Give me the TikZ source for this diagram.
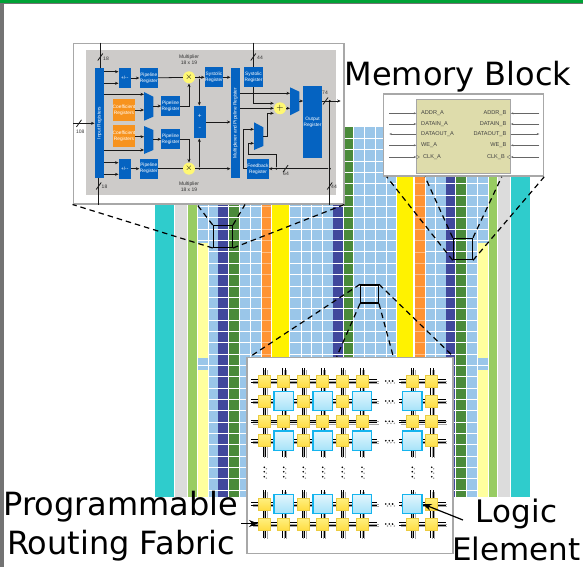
\documentclass[tikz,border=0pt]{standalone}
\usepackage{fontspec}
\setmainfont{DejaVu Sans}
\newfontfamily\panelfont{Liberation Sans}
\usetikzlibrary{calc,arrows.meta}
\definecolor{cellblue}{HTML}{9AC6E9}
\definecolor{cellnavy}{HTML}{40489C}
\definecolor{cellgreen}{HTML}{4A8A3A}
\definecolor{cellteal}{HTML}{2FCCCC}
\definecolor{cellgray}{HTML}{DCDCDC}
\definecolor{celllime}{HTML}{98CC62}
\definecolor{cellyellow}{HTML}{FFF200}
\definecolor{cellorange}{HTML}{FF9333}
\definecolor{celllight}{HTML}{FFFF9E}
\definecolor{dspblue}{HTML}{0563C1}
\definecolor{dspgray}{HTML}{CDCBC9}
\definecolor{dsporange}{HTML}{F7931E}
\definecolor{memfill}{HTML}{DEDCAB}
\definecolor{panelline}{HTML}{A8A8A8}
\definecolor{routeyellow}{HTML}{FFDD44}
\definecolor{routetop}{HTML}{FFF080}
\definecolor{leblue}{HTML}{14B4EE}
\tikzset{
  panel/.style={draw=panelline, fill=white, line width=1.5pt, inner sep=0pt, anchor=north west},
  zoomsq/.style={draw=black, line width=1.3pt, inner sep=0pt, anchor=north west},
  zoomline/.style={dash pattern=on 5.5pt off 4pt, line width=1.2pt},
  bigtext/.style={font=\fontsize{32}{39}\selectfont, inner sep=0pt, align=center},
  dspbox/.style={fill=dspblue, text=white, inner sep=0pt, align=center,
                 font=\panelfont\fontsize{4.8}{6}\selectfont},
  regbox/.style={dspbox, minimum width=18.5pt, minimum height=20pt},
  pmbox/.style={dspbox, minimum width=12pt, minimum height=20pt},
  coefbox/.style={regbox, fill=dsporange, minimum width=22pt, minimum height=21.5pt},
  tallbox/.style={dspbox, minimum width=9.4pt, minimum height=110.5pt},
  opcirc/.style={circle, fill=yellow!55, minimum size=12pt, inner sep=0pt,
                 font=\fontsize{9}{9}\selectfont},
  dsptext/.style={inner sep=0pt, align=center, text=black!80,
                  font=\panelfont\fontsize{5}{6.4}\selectfont},
  wire/.style={-{Stealth[length=3.5pt,width=3pt]}, line width=0.8pt, black!90},
  plainwire/.style={line width=0.8pt, black!90},
  dot/.style={circle, fill=black, minimum size=2.2pt, inner sep=0pt},
  memtext/.style={inner sep=0pt, text=black!75, font=\panelfont\fontsize{5.6}{6}\selectfont},
  memwire/.style={-{Stealth[length=2.5pt,width=2pt]}, line width=0.5pt, black!60},
  route/.style={draw=routeyellow!92!black, line width=0.6pt, minimum size=12pt, inner sep=0pt,
                top color=routetop, bottom color=routeyellow},
  logicel/.style={draw=leblue, line width=1.3pt, minimum size=19.5pt, inner sep=0pt,
                  top color=leblue!12, bottom color=leblue!38},
  busmark/.pic={\draw[line width=0.8pt, black!90] (-2.5,3.5) -- (2.5,-3.5);},
  pointer/.style={-{Stealth[length=9pt,width=7pt]}, line width=1.2pt},
}
\begin{document}
\begin{tikzpicture}[x=1pt,y=-1pt]
  \useasboundingbox (0,0) rectangle (583,567);
  % page edges
  \fill[black!55] (0,3) rectangle (583,4.5);
  \fill[black!55] (0,4) rectangle (3.5,567);
  \fill[green!50!teal!85!black] (0,0) rectangle (583,3);
  % columns of the device
  \foreach \xa/\xb/\col in {154.5/174/cellteal, 175/187/cellgray, 188/197/celllime,
      197.5/208/cellblue, 209/217.5/cellblue, 218/228/cellnavy, 229/239/cellgreen,
      239.5/250/cellblue, 251/261/cellblue, 262/271/cellorange, 272/289/cellyellow,
      290/300.5/cellblue, 301.5/311/cellblue, 312/322/cellblue, 323/332.5/cellblue,
      333/343/cellnavy, 343.5/353/cellgreen,
      353.5/364/cellblue, 365/375/cellblue, 376/385.5/cellblue, 386.5/396/cellblue,
      397/413/cellyellow, 415/425/cellorange,
      425.5/435/cellblue, 436/445.5/cellblue, 446/455/cellnavy, 456/466/cellgreen,
      467/477/cellblue, 478/488/cellblue, 489/497/celllime, 498/510/cellgray, 511/530/cellteal}
    \fill[\col] (\xa,127) rectangle (\xb,497);
  \foreach \k in {1,...,32} {
    \draw[white, line width=0.8pt] (197.5,127+11.35*\k) -- (261,127+11.35*\k);
    \draw[white, opacity=0.4, line width=0.7pt] (262,127+11.35*\k) -- (271,127+11.35*\k);
    \draw[white, line width=0.8pt] (290,127+11.35*\k) -- (396,127+11.35*\k);
    \draw[white, opacity=0.4, line width=0.7pt] (415,127+11.35*\k) -- (425,127+11.35*\k);
    \draw[white, line width=0.8pt] (425.5,127+11.35*\k) -- (488,127+11.35*\k);
  }
  \fill[celllight] (197.5,243) rectangle (208,358);
  \fill[celllight] (197.5,370) rectangle (208,497);
  \fill[celllight] (478,243) rectangle (488,358);
  \fill[celllight] (478,370) rectangle (488,497);

  % zoom squares
  \node[zoomsq, minimum width=19pt, minimum height=21.7pt] (sqDsp) at (212.7,225) {};
  \node[zoomsq, minimum width=19pt, minimum height=21.3pt] (sqMem) at (452.7,237.7) {};
  \node[zoomsq, minimum width=17.7pt, minimum height=18pt] (sqFab) at (360,284.3) {};

  % dashed zoom lines
  \node[panel, minimum width=270.5pt, minimum height=160.3pt] (dspPanel) at (72.5,42.7) {};
  \node[panel, minimum width=160pt, minimum height=82pt] (memPanel) at (382.7,93.3) {};
  \node[panel, minimum width=206pt, minimum height=196pt] (fabPanel) at (246,356.7) {};
  \draw[zoomline] (sqDsp.south west) -- (dspPanel.south west);
  \draw[zoomline] (sqDsp.north west) -- (dspPanel.south -| 197,0);
  \draw[zoomline] (sqDsp.north east) -- (dspPanel.south -| 245,0);
  \draw[zoomline] (sqDsp.south east) -- (dspPanel.south east);
  \draw[zoomline] (sqMem.south west) -- (memPanel.south -| 386.7,0);
  \draw[zoomline] (sqMem.north west) -- (memPanel.south -| 425,0);
  \draw[zoomline] (sqMem.north east) -- (memPanel.south -| 501.7,0);
  \draw[zoomline] (sqMem.south east) -- (memPanel.south east);
  \draw[zoomline] (sqFab.north west) -- (fabPanel.north -| 250,0);
  \draw[zoomline] (sqFab.south west) -- (fabPanel.north -| 336.7,0);
  \draw[zoomline] (sqFab.south east) -- (fabPanel.north -| 393.3,0);
  \draw[zoomline] (sqFab.north east) -- (fabPanel.north east);

  % multiplier block
  \node[fill=dspgray, minimum width=250pt, minimum height=145pt, inner sep=0pt, anchor=north west] (dspBack) at (86,50) {};
  \node[tallbox] (inreg) at (99.4,123) {\rotatebox{90}{Input Registers}};
  \node[tallbox] (muxreg) at (235.4,123) {\rotatebox{90}{Multiplexer and Pipeline Register}};
  \node[pmbox] (plusA) at (124.7,78) {+/--};
  \node[pmbox] (plusB) at (124.7,168.7) {+/--};
  \node[regbox] (pipeA) at (148.8,78) {Pipeline\\Register};
  \node[regbox] (pipeB) at (170.6,106) {Pipeline\\Register};
  \node[regbox] (pipeC) at (170.6,139.3) {Pipeline\\Register};
  \node[regbox] (pipeD) at (148.8,168.7) {Pipeline\\Register};
  \node[coefbox] (coefA) at (124,110) {Coefficient\\Registers};
  \node[coefbox] (coefB) at (124,136.2) {Coefficient\\Registers};
  \node[regbox] (sysA) at (214,77) {Systolic\\Register};
  \node[regbox] (sysB) at (253.5,77) {Systolic\\Register};
  \node[regbox] (feedreg) at (258,169) {Feedback\\Register};
  \node[dspbox, minimum width=18.4pt, minimum height=72.3pt] (outreg) at (312.5,122.2) {Output\\Register};
  \node[dspbox, minimum width=11.7pt, minimum height=32.6pt, font=\fontsize{5}{12}\selectfont] (addsub) at (199.8,122) {+\\--};
  \node[opcirc] (multA) at (189,77.3) {$\times$};
  \node[opcirc] (multB) at (189,168.7) {$\times$};
  \node[opcirc] (adder) at (280,108.3) {$+$};
  \node[dsptext] (multAtxt) at (189,60) {Multiplier\\18 x 19};
  \node[dsptext] (multBtxt) at (189,186.7) {Multiplier\\18 x 19};
  % multiplexers
  \fill[dspblue] (144,92) -- (153.3,96.7) -- (153.3,116.7) -- (144,120.7) -- cycle;
  \fill[dspblue] (144,126) -- (153.3,130) -- (153.3,150) -- (144,154) -- cycle;
  \fill[dspblue] (290,87.3) -- (299.3,91.7) -- (299.3,110.7) -- (290,115.3) -- cycle;
  \fill[dspblue] (254,122.3) -- (263.3,127.3) -- (263.3,146) -- (254,150) -- cycle;
  \coordinate (muxAin1) at (144,94.3);
  \coordinate (muxAin2) at (144,110);
  \coordinate (muxAout) at (153.3,106);
  \coordinate (muxBin1) at (144,136.7);
  \coordinate (muxBin2) at (144,150);
  \coordinate (muxBout) at (153.3,139.3);
  \coordinate (muxCin) at (290,93.3);
  \coordinate (muxCin2) at (290,108.3);
  \coordinate (muxCout) at (299.3,101);
  \coordinate (muxDin1) at (254,129.3);
  \coordinate (muxDin2) at (254,143.3);
  \coordinate (muxDout) at (263.3,136);

  % wiring of the multiplier block
  \draw[wire] (inreg.east |- 0,71.7) -- (plusA.west |- 0,71.7);
  \draw[wire] (inreg.east |- 0,83.3) -- (plusA.west |- 0,83.3);
  \draw[wire] (plusA) -- (pipeA);
  \draw[plainwire] (pipeA) -- (multA);
  \node[dot] (jctA) at (199.3,77.3) {};
  \draw[wire] (multA) -- (sysA.west |- multA);
  \draw[wire] (jctA) -- (addsub.north -| jctA);
  \draw[wire] (sysA.east |- multA) -- (muxreg.west |- multA);
  \draw[wire] (inreg.east |- muxAin1) -- (muxAin1);
  \draw[wire] (coefA.east |- muxAin2) -- (muxAin2);
  \draw[wire] (coefB.east |- muxBin1) -- (muxBin1);
  \draw[wire] (inreg.east |- muxBin2) -- (muxBin2);
  \draw[wire] (muxAout) -- (pipeB.west |- muxAout);
  \draw[wire] (muxBout) -- (pipeC.west |- muxBout);
  \draw[wire] (pipeB.east) -| (multA.south);
  \draw[wire] (pipeC.east) -| (multB.north);
  \draw[wire] (inreg.east |- 0,162.7) -- (plusB.west |- 0,162.7);
  \draw[wire] (inreg.east |- 0,174.3) -- (plusB.west |- 0,174.3);
  \draw[wire] (plusB) -- (pipeD);
  \draw[plainwire] (pipeD) -- (multB);
  \node[dot] (jctB) at (199.3,168.7) {};
  \draw[wire] (multB) -- (muxreg.west |- multB);
  \draw[wire] (jctB) -- (addsub.south -| jctB);
  \draw[wire] (addsub.east) -- (muxreg.west |- addsub);
  \draw[wire] (muxreg.east |- muxCin) -- (muxCin);
  \draw[wire] (muxreg.east |- adder) -- (adder.west);
  \draw[wire] (sysB.south -| 253.3,0) |- (adder.west |- 0,103.3);
  \draw[wire] (muxDout) -| (267.3,113.3) -- (adder.west |- 0,113.3);
  \draw[wire] (adder.east) -- (muxCin2);
  \draw[wire] (muxCout) -- (outreg.west |- muxCout);
  \coordinate (outEnd) at (340.7,101);
  \draw[wire] (outreg.east |- outEnd) -- (outEnd);
  \node[dot] (jctC) at (329.7,101) {};
  \node[dot] (jctD) at (329.7,168.7) {};
  \node[dot] (jctE) at (276.3,168.7) {};
  \draw[plainwire] (jctC) -- (dspPanel.south -| jctC);
  \draw[wire] (jctD) -- (feedreg.east |- jctD);
  \draw[wire] (jctE) |- (248.3,154.3) |- (muxDin2);
  \draw[wire] (feedreg.west |- jctD) -| (243.3,129.3) -- (muxDin1);
  \draw[plainwire] (dspPanel.north -| 100.3,0) -- (inreg.north -| 100.3,0);
  \draw[plainwire] (inreg.south -| 98.7,0) -- (dspPanel.south -| 98.7,0);
  \draw[plainwire] (dspPanel.north -| 253.3,0) -- (sysB.north -| 253.3,0);
  \coordinate (inStart) at (73,123.3);
  \draw[wire] (inStart) -- (inreg.west |- inStart);
  % bus marks and their widths
  \path (100.3,57) pic {busmark};
  \node[dsptext] (busA) at (106,58.5) {18};
  \path (98.7,186) pic {busmark};
  \node[dsptext] (busB) at (104.5,187) {18};
  \path (79,123.3) pic {busmark};
  \node[dsptext] (busC) at (80.3,131.7) {108};
  \path (253.3,57) pic {busmark};
  \node[dsptext] (busD) at (260,58) {44};
  \path (325.5,101) pic {busmark};
  \node[dsptext] (busE) at (325,93) {74};
  \path (285.5,168.7) pic {busmark};
  \node[dsptext] (busF) at (286,174) {64};
  \path (329.7,186) pic {busmark};
  \node[dsptext] (busG) at (334,187) {44};

  % memory block
  \node[draw=black!35, line width=0.5pt, fill=memfill, minimum width=94pt, minimum height=74pt, inner sep=0pt, anchor=north west] (memcore) at (416.3,98.7) {};
  \node[memtext, anchor=west] (addrA) at (421,113.3) {ADDR\_A};
  \node[memtext, anchor=west] (dinA) at (421,124) {DATAIN\_A};
  \node[memtext, anchor=west] (doutA) at (421,134) {DATAOUT\_A};
  \node[memtext, anchor=west] (weA) at (421,145.3) {WE\_A};
  \node[memtext, anchor=west] (clkA) at (423,157) {CLK\_A};
  \node[memtext, anchor=east] (addrB) at (506.5,113.3) {ADDR\_B};
  \node[memtext, anchor=east] (dinB) at (506.5,124) {DATAIN\_B};
  \node[memtext, anchor=east] (doutB) at (506.5,134) {DATAOUT\_B};
  \node[memtext, anchor=east] (weB) at (506.5,145.3) {WE\_B};
  \node[memtext, anchor=east] (clkB) at (505,157) {CLK\_B};
  \foreach \y in {113.3,124,145.3,157} {
    \draw[memwire] (389.3,\y) -- (memcore.west |- 0,\y);
    \draw[memwire] (539.3,\y) -- (memcore.east |- 0,\y);
  }
  \draw[memwire] (memcore.west |- doutA) -- (389.3,134);
  \draw[memwire] (memcore.east |- doutB) -- (539.3,134);
  \draw[line width=0.3pt, black!60] (416.3,155) -- (419.5,157) -- (416.3,159);
  \draw[line width=0.3pt, black!60] (510.3,155) -- (507.1,157) -- (510.3,159);

  % routing fabric
  \begin{scope}[shift={(1.5,1.5)}, black!35, line width=0.7pt]
    \foreach \y in {381,401,421.3,440.7,504,524} {
      \draw (251,\y-1.3) -- (377,\y-1.3) (251,\y+1.3) -- (377,\y+1.3);
      \draw (399,\y-1.3) -- (445.7,\y-1.3) (399,\y+1.3) -- (445.7,\y+1.3);
    }
    \foreach \x in {264.3,283.7,303.3,322.7,342.3,362,412.3,431.7} {
      \draw (\x-1.3,368.3) -- (\x-1.3,456.7) (\x+1.3,368.3) -- (\x+1.3,456.7);
      \draw (\x-1.3,490) -- (\x-1.3,537.7) (\x+1.3,490) -- (\x+1.3,537.7);
    }
  \end{scope}
  \foreach \y in {381,401,421.3,440.7,504,524} {
    \draw[line width=0.9pt] (251,\y-1.3) -- (377,\y-1.3) (251,\y+1.3) -- (377,\y+1.3);
    \draw[line width=0.9pt] (399,\y-1.3) -- (445.7,\y-1.3) (399,\y+1.3) -- (445.7,\y+1.3);
    \foreach \d in {0,1,2} {
      \fill[black!40] (387.5+3.4*\d,\y+2) circle (0.8);
      \fill (385.8+3.4*\d,\y) circle (0.9);
    }
  }
  \foreach \x in {264.3,283.7,303.3,322.7,342.3,362,412.3,431.7} {
    \draw[line width=0.9pt] (\x-1.3,368.3) -- (\x-1.3,456.7) (\x+1.3,368.3) -- (\x+1.3,456.7);
    \draw[line width=0.9pt] (\x-1.3,490) -- (\x-1.3,537.7) (\x+1.3,490) -- (\x+1.3,537.7);
    \foreach \y in {467.3,471.7,476.7} {
      \fill[black!40] (\x+2,\y+1.5) circle (0.8);
      \fill (\x,\y) circle (0.9);
    }
  }
  \foreach \y [count=\r] in {381,421.3,524}
    \foreach \x [count=\c] in {264.3,283.7,303.3,322.7,342.3,362,412.3,431.7}
      \node[route] (rt\r-\c) at (\x,\y) {};
  \foreach \y [count=\r] in {401,440.7,504}
    \foreach \x [count=\c] in {264.3,303.3,342.3,431.7}
      \node[route] (rl\r-\c) at (\x,\y) {};
  \foreach \y [count=\r] in {401,440.7}
    \foreach \x [count=\c] in {283.7,322.7,362,412.3}
      \node[logicel] (le\r-\c) at (\x,\y) {};
  \foreach \x [count=\c] in {283.7,322.7,362}
    \node[logicel] (leb\c) at (\x,504) {};
  \node[logicel] (leTarget) at (412.3,504) {};

  % labels
  \node[bigtext] (memLabel) at (458,77) {Memory Block};
  \node[bigtext] (fabLabel) at (121,526) {Programmable\\Routing Fabric};
  \node[bigtext, font=\fontsize{31}{38}\selectfont] (leLabel) at (516.5,530) {Logic\\Element};
  \coordinate (fabStart) at (241,523.5);
  \coordinate (leStart) at (463,520);
  \draw[pointer] (fabStart) -- (258,523.5);
  \draw[pointer] (leStart) -- (leTarget.east);
\end{tikzpicture}
\end{document}
